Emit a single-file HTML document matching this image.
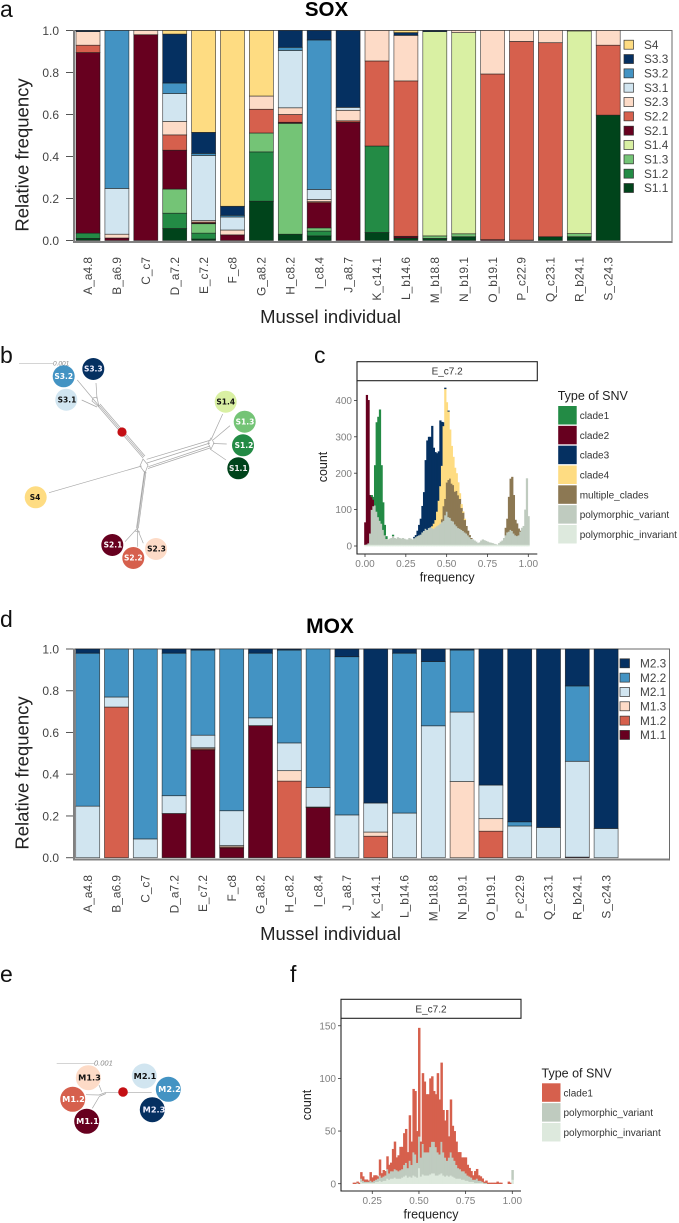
<!DOCTYPE html>
<html lang="en">
<head>
<meta charset="utf-8">
<title>SOX and MOX clade frequencies</title>
<style>
html,body{margin:0;padding:0;background:#fff;}
svg{display:block;font-family:"Liberation Sans",Arial,sans-serif;}
.node{font-family:"DejaVu Sans",sans-serif;font-weight:bold;text-anchor:middle;}
.tree{fill:none;stroke:#a8a8a8;stroke-width:.7;}
.letter{font-size:23px;fill:#111;}
</style>
</head>
<body>
<svg id="fig" xmlns="http://www.w3.org/2000/svg" width="679" height="1223" viewBox="0 0 679 1223">
<rect width="679" height="1223" fill="#fff"/>

<text class="letter" x="0" y="17">a</text>
<text class="letter" x="0" y="363">b</text>
<text class="letter" x="314" y="363">c</text>
<text class="letter" x="0" y="627">d</text>
<text class="letter" x="0" y="982">e</text>
<text class="letter" x="290" y="982">f</text>

<g id="panelA"></g>
<g id="panelD"></g>
<g id="panelC"></g>
<g id="panelF"></g>

<g>
  <line x1="19" y1="363.3" x2="53" y2="363.3" stroke="#bbb" stroke-width=".7"/>
  <text x="53" y="365.5" font-size="6.5" font-style="italic" fill="#888">0.001</text>
  <path class="tree" d="M96 383L97 399M77.3 380L99 406M81.7 400L97 407M93 398L97 397L99 407L92 401Z
  M98 406L143 458M100 404L145 456M99 405L144 457
  M146.7 459.3L211 440M148.3 466.7L210 446M148 468.5L210 448M147 463L210 443
  M222.7 414L211.7 438.3M230 425.7L213 440M226.7 444L213 443.5M226 460L210 449M211 438L214 443L211 449L208 443Z
  M49 492.7L141.7 466M143 459L148 465L145 473L140 466Z
  M145 471.7L137.3 528.3M146 472L138.3 528.3M144.5 471L136.5 528
  M137.5 528L125 541.7M137.5 528L137.7 546.7M137 528L143.3 543.3M135 531L140 532"/>
  <circle cx="122" cy="432" r="4.6" fill="#c40f14"/>
  <circle cx="93.3" cy="369" r="11" fill="#053061"/><text class="node" x="93.3" y="371.6" font-size="7.5" fill="#eef">S3.3</text>
  <circle cx="63.7" cy="376.3" r="11" fill="#4393c3"/><text class="node" x="63.7" y="379" font-size="7.5" fill="#fff">S3.2</text>
  <circle cx="66.3" cy="399.7" r="11" fill="#d1e5f0"/><text class="node" x="67" y="402.4" font-size="7.5" fill="#111">S3.1</text>
  <circle cx="225.7" cy="401.7" r="11" fill="#d9f0a3"/><text class="node" x="225.7" y="404.4" font-size="7.5" fill="#111">S1.4</text>
  <circle cx="244.7" cy="421.7" r="11" fill="#74c476"/><text class="node" x="245" y="424.4" font-size="7.5" fill="#fff">S1.3</text>
  <circle cx="243" cy="445.3" r="11" fill="#238b45"/><text class="node" x="244" y="448" font-size="7.5" fill="#fff">S1.2</text>
  <circle cx="238.3" cy="468.3" r="11" fill="#00441b"/><text class="node" x="238.3" y="471" font-size="7.5" fill="#eee">S1.1</text>
  <circle cx="35.7" cy="497.3" r="11" fill="#fedc82"/><text class="node" x="35" y="500" font-size="7.5" fill="#111">S4</text>
  <circle cx="112.3" cy="545" r="11" fill="#67001f"/><text class="node" x="113" y="547.7" font-size="7.5" fill="#fff">S2.1</text>
  <circle cx="133.3" cy="558" r="11" fill="#d6604d"/><text class="node" x="133.3" y="560.7" font-size="7.5" fill="#fff">S2.2</text>
  <circle cx="156" cy="549" r="11" fill="#fddbc7"/><text class="node" x="156.5" y="551.7" font-size="7.5" fill="#111">S2.3</text>
</g>

<g>
  <line x1="56.7" y1="1063.3" x2="94" y2="1063.3" stroke="#bbb" stroke-width=".7"/>
  <text x="94" y="1065.5" font-size="7.5" font-style="italic" fill="#888">0.001</text>
  <path class="tree" d="M106 1092.3L151.7 1092.3M106 1092.3L99 1095M106 1093.5L99 1096.5M99 1085L101.7 1091.7M86 1094.7L99 1095M92.3 1108.3L99 1097"/>
  <circle cx="123" cy="1092" r="4.8" fill="#c40f14"/>
  <circle cx="88.3" cy="1077.7" r="12.5" fill="#fddbc7"/><text class="node" x="89.5" y="1080.6" font-size="8.2" fill="#111">M1.3</text>
  <circle cx="72.7" cy="1099.3" r="12.5" fill="#d6604d"/><text class="node" x="73.5" y="1102.2" font-size="8.2" fill="#fff">M1.2</text>
  <circle cx="86.7" cy="1121.3" r="12.5" fill="#67001f"/><text class="node" x="87.5" y="1124.2" font-size="8.2" fill="#fff">M1.1</text>
  <circle cx="144.3" cy="1076" r="12.5" fill="#d1e5f0"/><text class="node" x="145" y="1078.9" font-size="8.2" fill="#111">M2.1</text>
  <circle cx="152.3" cy="1109.7" r="12.5" fill="#053061"/><text class="node" x="154" y="1112.6" font-size="8.2" fill="#eef">M2.3</text>
  <circle cx="168.3" cy="1089.3" r="12.5" fill="#4393c3"/><text class="node" x="169.5" y="1092.2" font-size="8.2" fill="#fff">M2.2</text>
</g>
</svg>

<script>
// ---------- shared category data ----------
const sampleNames = ["A_a4.8","B_a6.9","C_c7","D_a7.2","E_c7.2","F_c8","G_a8.2","H_c8.2","I_c8.4","J_a8.7","K_c14.1","L_b14.6","M_b18.8","N_b19.1","O_b19.1","P_c22.9","Q_c23.1","R_b24.1","S_c24.3"];
const barTicks = [0, 0.2, 0.4, 0.6, 0.8, 1];
const barTickLabels = ["0.0","0.2","0.4","0.6","0.8","1.0"];

// ---------- SOX relative frequencies ----------
const soxS11 = [.01,0,0,.057,.007,0,.187,.03,.022,0,.038,.012,.01,.018,0,0,.018,.018,.597];
const soxS12 = [.025,0,0,.073,.028,0,.235,0,.023,0,.412,0,0,0,0,0,0,0,0];
const soxS13 = [0,0,0,.115,.045,0,.09,.528,.015,0,0,0,.012,.014,0,0,0,.015,0];
const soxS14 = [0,0,0,0,0,0,0,0,0,0,0,0,.973,.958,0,0,0,.965,0];
const soxS21 = [.86,.012,.98,.185,.003,.027,0,.005,.12,.563,0,.008,0,0,.004,.002,0,0,0];
const soxS22 = [.035,0,0,.073,.005,0,.113,.037,.005,.007,.405,.74,0,0,.789,.946,.924,0,.333];
const soxS23 = [.065,.018,.02,.064,.007,.023,.063,.032,.01,.05,.145,.217,0,.01,.207,.052,.058,.002,.07];
const soxS31 = [0,.218,0,.133,.31,.062,0,.273,.048,.014,0,0,0,0,0,0,0,0,0];
const soxS32 = [0,.752,0,.05,.01,.008,0,.015,.712,0,0,0,0,0,0,0,0,0,0];
const soxS33 = [.005,0,0,.233,.1,.043,0,.08,.045,.366,0,.013,.005,0,0,0,0,0,0];
const soxS4  = [0,0,0,.017,.485,.837,.312,0,0,0,0,.01,0,0,0,0,0,0,0];
const soxLabels = ["S1.1","S1.2","S1.3","S1.4","S2.1","S2.2","S2.3","S3.1","S3.2","S3.3","S4"];

// ---------- MOX relative frequencies ----------
const moxM11 = [0,0,0,.212,.517,.047,.633,0,.24,0,0,0,0,0,0,0,0,.003,0];
const moxM12 = [0,.722,0,0,.005,.005,0,.367,.003,0,.103,0,0,0,.127,0,0,0,0];
const moxM13 = [0,0,0,0,.005,.006,0,.05,0,0,.02,0,0,.365,.06,0,0,0,0];
const moxM21 = [.247,.048,.09,.085,.06,.167,.037,.133,.094,.205,.139,.214,.632,.333,.161,.152,.145,.459,.14];
const moxM22 = [.733,.23,.91,.683,.408,.775,.31,.445,.663,.758,0,.766,.308,.297,0,.02,0,.361,0];
const moxM23 = [.02,0,0,.02,.005,0,.02,.005,0,.037,.738,.02,.06,.005,.652,.828,.855,.177,.86];
const moxLabels = ["M1.1","M1.2","M1.3","M2.1","M2.2","M2.3"];

// ---------- Panel c histogram counts, bins 0.00 to 1.00 ----------
const cInvariant = [4,4,4,4,4,4,4,4,4,4, 4,4,4,4,4,4,4,4,4,4, 4,4,4,4,4,4,4,4,4,4, 4,4,4,4,4,4,4,4,4,4, 4,4,4,4,4,4,4,4,4,4, 4,4,4,4,4,4,4,4,4,4, 4,4,4,4,4,4,4,4,4,4, 4,4,4,4,4,4,4,4,4,4, 4,4,4,4,4,4,4,4,4,4, 4,4,4,4,4,4,4,4,4,4, 4];
const cVariant = [0,1,4,31,96,106,108,91,76,66, 58,41,26,16,14,16,18,24,18,16, 20,18,16,18,16,14,14,18,16,14, 18,21,24,26,28,34,38,44,41,46, 48,46,44,48,51,54,58,62,66,81, 91,76,74,66,64,56,51,46,44,41, 38,34,31,26,21,16,14,11,8,4, 6,11,14,12,10,8,6,5,4,2, 1,0,4,8,11,18,26,34,36,41, 38,31,26,24,26,36,46,51,96,182, 78];
const cMultiple = [0,0,0,0,0,0,0,0,0,0, 0,0,0,0,0,0,0,0,0,0, 0,0,0,0,0,0,0,0,0,0, 0,0,0,0,0,0,0,0,0,0, 0,0,0,0,0,0,0,8,40,45, 80,102,108,102,100,90,97,90,82,60, 50,34,20,12,5,2,0,0,0,0, 0,0,0,0,0,0,0,0,0,0, 0,0,0,0,0,0,20,37,95,140, 148,105,42,34,18,2,0,0,0,0, 0];
const cClade4 = [0,0,0,0,0,0,0,0,0,0, 0,0,0,0,0,0,0,0,0,0, 0,0,0,0,0,0,0,0,0,0, 0,0,0,0,0,0,0,0,0,0, 0,5,14,20,40,67,103,147,220,302, 220,188,134,103,77,65,48,35,15,10, 3,3,0,0,0,0,0,0,0,0, 0,0,0,0,0,0,0,0,0,0, 0,0,0,0,0,0,0,0,0,0, 0,0,0,0,0,0,0,0,0,0, 0];
const cClade3 = [0,0,0,0,0,0,0,0,0,0, 0,0,0,0,0,0,0,0,0,0, 0,0,0,0,0,0,0,0,0,0, 3,5,14,28,43,72,106,188,245,250, 248,275,208,186,160,135,180,120,10,3, 0,2,0,0,0,0,0,0,0,0, 0,0,0,0,0,0,0,0,0,0, 0,0,0,0,0,0,0,0,0,0, 0,0,0,0,0,0,0,0,0,0, 0,0,0,0,0,0,0,0,0,0, 0];
const cClade2 = [61,410,393,105,35,18,0,0,0,0, 0,0,0,0,0,0,0,0,0,0, 0,0,0,0,0,0,0,0,0,0, 0,0,0,0,0,0,0,0,0,0, 0,0,0,0,0,0,0,0,0,0, 0,0,0,0,0,0,0,0,0,0, 0,0,0,0,0,0,0,0,0,0, 0,0,0,0,0,0,0,0,0,0, 0,0,0,0,0,0,0,0,0,0, 0,0,0,0,0,0,0,0,0,0, 0];
const cClade1 = [0,0,0,0,5,7,110,245,275,305, 160,75,28,7,0,0,0,3,0,0, 0,0,0,0,0,0,0,0,0,0, 0,0,0,0,0,0,0,0,0,0, 0,0,0,0,0,0,0,0,0,0, 0,0,0,0,0,0,0,0,0,0, 0,0,0,0,0,0,0,0,0,0, 0,0,0,0,0,0,0,0,0,0, 0,0,0,0,0,0,0,0,0,0, 0,0,0,0,0,0,0,0,0,0, 0];
const cYTicks = [0,100,200,300,400];
const cXTicks = [0,0.25,0.5,0.75,1];
const cXTickLabels = ["0.00","0.25","0.50","0.75","1.00"];
const cLegendLabels = ["clade1","clade2","clade3","clade4","multiple_clades","polymorphic_variant","polymorphic_invariant"];

// ---------- Panel f histogram counts, bins 0.15 to 1.00 ----------
const fInvariant = [0,0,0,0,2, 1,1,1,1,1, 1,1,2,2,3, 2,3,3,5,4, 5,5,6,5,5, 5,6,7,8,6, 7,6,8,7,6, 15,7,9,8,8, 8,9,10,10,8, 8,9,10,8,7, 8,7,8,7,6, 5,5,5,4,4, 3,3,2,2,2, 1,1,1,1,1, 0,0,0,0,0, 0,0,0,0,0, 0,0,0,0,0, 4];
const fVariant = [0,0,1,0,3, 2,1,1,1,2, 1,2,2,3,5, 4,4,5,9,6, 7,7,8,8,7, 8,8,11,12,9, 15,12,22,21,14, 30,18,29,22,22, 22,26,30,30,27, 22,19,30,22,18, 14,18,22,18,16, 13,10,9,8,8, 7,5,5,4,2, 3,4,2,2,1, 1,1,0,0,0, 0,0,0,0,0, 0,0,0,0,0, 9];
const fClade1 = [1,1,1,1,6, 4,2,2,1,8, 4,5,4,2,15, 4,6,4,12,8, 8,21,26,12,15, 22,21,30,32,15, 43,22,60,60,30, 103,15,67,67,55, 55,65,62,48,50, 75,52,75,40,35, 48,20,50,30,28, 22,15,16,13,13, 15,10,8,6,4, 8,9,5,4,3, 1,2,1,1,1, 1,1,2,1,1, 0,0,0,2,1, 0];
const fYTicks = [0,50,100,150];
const fXTicks = [0.25,0.5,0.75,1];
const fXTickLabels = ["0.25","0.50","0.75","1.00"];
const fLegendLabels = ["clade1","polymorphic_variant","polymorphic_invariant"];

// ---------- palettes ----------
const soxPalette = ["#00441b","#238b45","#74c476","#d9f0a3","#67001f","#d6604d","#fddbc7","#d1e5f0","#4393c3","#053061","#fedc82"];
const moxPalette = ["#67001f","#d6604d","#fddbc7","#d1e5f0","#4393c3","#053061"];
const cPalette = ["#238b45","#67001f","#053061","#fedc82","#8c7853","#bfcbbf","#dde9dd"];
const fPalette = ["#d6604d","#bfcbbf","#dde9dd"];

// ---------- helpers ----------
const NS = "http://www.w3.org/2000/svg";
function mk(parent, tag, attrs) {
  const el = document.createElementNS(NS, tag);
  for (const k in attrs) el.setAttribute(k, attrs[k]);
  parent.appendChild(el);
  return el;
}
function label(parent, x, y, str, size, fill, anchor, rotate) {
  const attrs = {x: x, y: y, "font-size": size, fill: fill, "text-anchor": anchor || "start"};
  if (rotate) attrs.transform = "rotate(" + rotate + " " + x + " " + y + ")";
  const el = mk(parent, "text", attrs);
  el.textContent = str;
  return el;
}

// ---------- stacked bar panels ----------
function drawBars(cfg) {
  const g = cfg.group;
  const yPos = v => cfg.y0 - v * (cfg.y0 - cfg.y1);
  const xPos = i => cfg.barLeft + i * cfg.barStep;

  const frame = mk(g, "rect", {x: 73.5, y: cfg.top + .5, width: cfg.right - 73.5, height: cfg.bottom - cfg.top, fill: "#fff", stroke: "#6a6a6a", "stroke-width": 1});
  
  
  const baseAxis = mk(g, "line", {x1: 73, x2: cfg.right, y1: cfg.bottom, y2: cfg.bottom, stroke: "#808080", "stroke-width": 2});
  
  
  const leftAxis = mk(g, "line", {x1: 74, x2: 74, y1: cfg.top, y2: cfg.bottom, stroke: "#808080", "stroke-width": 2});
  
  

  barTicks.forEach((t, i) => {
    const tick = mk(g, "line", {x1: 66, x2: 73, y1: yPos(t), y2: yPos(t), stroke: "#555", "stroke-width": 1});
    
    
    const lab = label(g, 59, yPos(t) + 4.3, barTickLabels[i], 12, "#444", "end");
    
    
  });

  sampleNames.forEach((name, i) => {
    let cum = 0;
    cfg.series.forEach((values, s) => {
      const v = values[i];
      if (v <= 0) return;
      const bar = mk(g, "rect", {x: xPos(i), y: yPos(cum + v), width: cfg.barWidth, height: yPos(cum) - yPos(cum + v), fill: cfg.palette[s], stroke: "#1a1a1a", "stroke-opacity": .75, "stroke-width": .7});
      
      
      cum += v;
    });
    const cx = xPos(i) + cfg.barWidth / 2 + 4.2;
    const lab = label(g, cx, cfg.labelTop, name, 11.9, "#444", "end", -90);
    
    
  });

  const n = cfg.labels.length;
  for (let k = 0; k < n; k++) {
    const s = n - 1 - k;
    const cy = cfg.legendTop + k * 14.33;
    const sw = mk(g, "rect", {x: cfg.legendX, y: cy - 4.5, width: 9.5, height: 9, fill: cfg.palette[s], stroke: "#333", "stroke-width": .7});
    
    
    const lab = label(g, cfg.legendX + 20, cy + 4.2, cfg.labels[s], 11.8, "#444");
    
    
  }

  const title = label(g, cfg.titleX, cfg.titleY, cfg.title, cfg.titleSize, "#000", "middle");
  title.setAttribute("font-weight", "bold");
  
  
  const yTitle = label(g, 28.5, cfg.yTitleC, "Relative frequency", 18.5, "#222", "middle", -90);
  
  
  const xTitle = label(g, 330.5, cfg.xTitleY, "Mussel individual", 18.5, "#222", "middle");
  
  
}

// ---------- histogram panels ----------
function drawHist(cfg) {
  const g = cfg.group;
  const xPos = f => cfg.x0 + f * cfg.xScale;
  const yPos = c => cfg.yZero - c * cfg.yScale;
  const binW = 0.01 * cfg.xScale;

  // cfg.stack is listed bottom to top; columns overlap slightly so no white seams show
  const nBins = cfg.stack[0].values.length;
  for (let i = 0; i < nBins; i++) {
    const f = cfg.firstBin + i * 0.01;
    let cum = 0;
    cfg.stack.forEach(layer => {
      const v = layer.values[i];
      if (v <= 0) return;
      const bar = mk(g, "rect", {x: xPos(f) - binW / 2, y: yPos(cum + v), width: binW + .6, height: v * cfg.yScale + .3, fill: layer.color});
      
      
      cum += v;
    });
  }

  const strip = mk(g, "rect", {x: cfg.left, y: cfg.stripTop, width: cfg.right - cfg.left, height: 19, fill: "#fff", stroke: "#222", "stroke-width": 1.1});
  
  
  const stripText = label(g, (cfg.left + cfg.right) / 2, cfg.stripTop + 13, "E_c7.2", 10, "#333", "middle");
  
  
  const axisPath = mk(g, "path", {d: "M" + cfg.left + " " + (cfg.stripTop + 19) + "V" + cfg.axisY + "H" + cfg.right, fill: "none", stroke: "#222", "stroke-width": 1.1});
  
  

  cfg.yTicks.forEach(t => {
    const tick = mk(g, "line", {x1: cfg.left - 3, x2: cfg.left, y1: yPos(t), y2: yPos(t), stroke: "#333", "stroke-width": .8});
    
    
    const lab = label(g, cfg.left - 5, yPos(t) + 3.6, String(t), 10, "#7f7f7f", "end");
    
    
  });
  cfg.xTicks.forEach((t, i) => {
    const tick = mk(g, "line", {x1: xPos(t), x2: xPos(t), y1: cfg.axisY, y2: cfg.axisY + 3, stroke: "#333", "stroke-width": .8});
    
    
    const lab = label(g, xPos(t), cfg.axisY + 12.8, cfg.xTickLabels[i], 10, "#7f7f7f", "middle");
    
    
  });

  const xTitle = label(g, (cfg.left + cfg.right) / 2, cfg.axisY + 27.5, "frequency", 12.5, "#222", "middle");
  
  
  const yTitle = label(g, cfg.countX, cfg.countY, "count", 12.5, "#222", "middle", -90);
  
  

  const legendTitle = label(g, cfg.legendX, cfg.legendTop - 6, "Type of SNV", 12.5, "#222");
  
  
  cfg.legendLabels.forEach((name, k) => {
    const top = cfg.legendTop + k * 19.83;
    const sw = mk(g, "rect", {x: cfg.legendX + .5, y: top, width: 18.5, height: 18.5, fill: cfg.legendColors[k]});
    
    
    const lab = label(g, cfg.legendX + 22, top + 13, name, 10, "#333");
    
    
  });
}

// ---------- draw everything ----------
drawBars({
  group: document.getElementById("panelA"),
  series: [soxS11, soxS12, soxS13, soxS14, soxS21, soxS22, soxS23, soxS31, soxS32, soxS33, soxS4],
  palette: soxPalette, labels: soxLabels,
  y0: 240.5, y1: 30.5, top: 30, bottom: 242, right: 672,
  barLeft: 76, barStep: 28.9, barWidth: 24,
  labelTop: 257, legendX: 624, legendTop: 44.7,
  title: "SOX", titleX: 326.5, titleY: 16, titleSize: 20.5,
  yTitleC: 155, xTitleY: 323
});
drawBars({
  group: document.getElementById("panelD"),
  series: [moxM11, moxM12, moxM13, moxM21, moxM22, moxM23],
  palette: moxPalette, labels: moxLabels,
  y0: 857.7, y1: 649, top: 648.5, bottom: 859.5, right: 669.5,
  barLeft: 75.7, barStep: 28.8, barWidth: 24,
  labelTop: 875, legendX: 620, legendTop: 663.3,
  title: "MOX", titleX: 330, titleY: 633, titleSize: 21,
  yTitleC: 773, xTitleY: 940
});
drawHist({
  group: document.getElementById("panelC"),
  stack: [
    {values: cInvariant, color: cPalette[6]},
    {values: cVariant, color: cPalette[5]},
    {values: cMultiple, color: cPalette[4]},
    {values: cClade4, color: cPalette[3]},
    {values: cClade3, color: cPalette[2]},
    {values: cClade2, color: cPalette[1]},
    {values: cClade1, color: cPalette[0]}
  ],
  firstBin: 0, x0: 365, xScale: 163.3, yZero: 546, yScale: .364,
  left: 357, right: 537.3, stripTop: 361.7, axisY: 554,
  yTicks: cYTicks, xTicks: cXTicks, xTickLabels: cXTickLabels,
  countX: 327, countY: 467,
  legendX: 557.7, legendTop: 406, legendLabels: cLegendLabels, legendColors: cPalette
});
drawHist({
  group: document.getElementById("panelF"),
  stack: [
    {values: fInvariant, color: fPalette[2]},
    {values: fVariant, color: fPalette[1]},
    {values: fClade1, color: fPalette[0]}
  ],
  firstBin: 0.15, x0: 325.6, xScale: 186.7, yZero: 1183.7, yScale: 1.053,
  left: 341, right: 521, stripTop: 999.3, axisY: 1191,
  yTicks: fYTicks, xTicks: fXTicks, xTickLabels: fXTickLabels,
  countX: 311, countY: 1105,
  legendX: 541.5, legendTop: 1083.3, legendLabels: fLegendLabels, legendColors: fPalette
});
</script>
</body>
</html>
